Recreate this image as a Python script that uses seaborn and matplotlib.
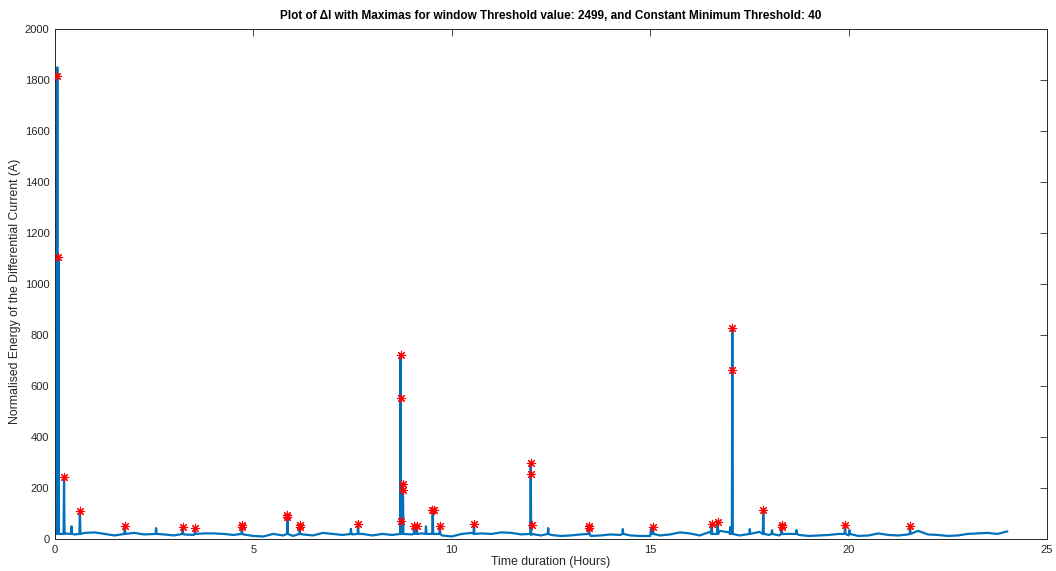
import numpy as np
import pandas as pd
import matplotlib
matplotlib.use("Agg")
import matplotlib.pyplot as plt
import seaborn as sns

# ---- data ----
# baseline (every 0.25 h from 0 to 24 h)
base_vals = [30, 22, 18, 24, 26, 20, 14, 20, 24, 18, 20, 18, 14, 18, 16, 22,
             22, 20, 16, 18, 12, 10, 20, 14, 12, 18, 14, 24, 20, 16, 18, 20,
             14, 20, 16, 20, 18, 22, 20, 14, 10, 20, 24, 22, 20, 26, 24, 18,
             16, 14, 16, 12, 14, 18, 12, 14, 18, 16, 14, 12, 12, 14, 18, 26,
             22, 14, 28, 32, 26, 14, 20, 28, 16, 14, 20, 16, 12, 14, 16, 20,
             14, 12, 14, 22, 16, 14, 18, 32, 18, 16, 12, 14, 20, 22, 24, 20, 30]
base_start, base_end = 0.0, 24.0

# line spikes
spike_t = [0.03, 0.06, 0.09, 0.23, 0.42, 0.63, 1.76, 2.55, 3.22, 3.53, 4.71,
           5.86, 6.17, 7.46, 7.64, 8.71, 8.77, 9.05, 9.12, 9.35, 9.52, 9.70,
           10.56, 11.99, 12.43, 13.46, 14.31, 15.02, 15.07, 16.55, 16.70,
           17.02, 17.07, 17.51, 17.85, 18.07, 18.31, 18.69, 19.91, 20.02, 21.55]
spike_v = [40, 1850, 1110, 245, 50, 112, 52, 43, 48, 44, 56,
           95, 56, 40, 60, 725, 218, 52, 52, 50, 115, 52,
           60, 300, 43, 52, 39, 40, 48, 60, 68,
           47, 830, 39, 115, 35, 56, 35, 56, 35, 52]
spike_foot = 20

# detected maxima
max_t = [0.06, 0.08, 0.23, 0.63, 1.76, 3.22, 3.53, 4.71, 4.71, 5.86, 5.86,
         6.17, 6.17, 7.64, 8.71, 8.71, 8.71, 8.77, 8.77, 9.05, 9.12, 9.50,
         9.54, 9.70, 10.56, 11.99, 11.99, 12.01, 13.46, 13.46, 15.07, 16.55,
         16.70, 17.07, 17.07, 17.85, 18.31, 18.31, 19.91, 21.55]
max_v = [1816, 1106, 243, 110, 51, 47, 43, 55, 47, 94, 86,
         55, 47, 59, 722, 553, 70, 216, 192, 51, 51, 114,
         114, 51, 59, 298, 255, 55, 51, 43, 47, 59,
         67, 827, 663, 114, 55, 47, 55, 51]

title = "Plot of \u0394I with Maximas for window Threshold value: 2499, and Constant Minimum Threshold: 40"
xlabel = "Time duration (Hours)"
ylabel = "Normalised Energy of the Differential Current (A)"

# ---- build series ----
bt = np.linspace(base_start, base_end, len(base_vals))
ts = list(bt)
vs = list(base_vals)
for t, v in zip(spike_t, spike_v):
    ts += [t - 0.012, t, t + 0.012]
    vs += [spike_foot, v, spike_foot]
df = pd.DataFrame({"t": ts, "v": vs}).sort_values("t").reset_index(drop=True)
dm = pd.DataFrame({"t": max_t, "v": max_v})

# ---- plot ----
sns.set_theme(style="white")
plt.rcParams["font.family"] = ["Liberation Sans", "DejaVu Sans"]

fig = plt.figure(figsize=(10.56, 5.71), dpi=100)
ax = fig.add_axes([0.052, 0.056, 0.9395, 0.893])

sns.lineplot(data=df, x="t", y="v", ax=ax, estimator=None, sort=False,
             color="#0072BD", linewidth=1.6)
sns.scatterplot(data=dm, x="t", y="v", ax=ax, marker=(8, 2, 0), s=36,
                color="red", edgecolor="red", linewidth=0.8, zorder=3)

ax.set_xlim(0, 25)
ax.set_ylim(0, 2000)
ax.set_xticks([0, 5, 10, 15, 20, 25])
ax.set_yticks(range(0, 2001, 200))
ax.tick_params(direction="in", top=True, right=True, length=5, width=0.6,
               colors="#262626", labelsize=8, pad=4)
for sp in ax.spines.values():
    sp.set_color("#262626")
    sp.set_linewidth(0.7)

ax.set_title(title, fontsize=8.5, fontweight="bold", color="black", pad=7)
ax.set_xlabel(xlabel, fontsize=8.8, color="#262626")
ax.set_ylabel(ylabel, fontsize=8.8, color="#262626")
ax.xaxis.label.set_va("center")
ax.xaxis.set_label_coords(0.5, -0.046)
ax.yaxis.label.set_va("center")
ax.yaxis.set_label_coords(-0.0403, 0.485)

fig.savefig("out.png", dpi=100)
